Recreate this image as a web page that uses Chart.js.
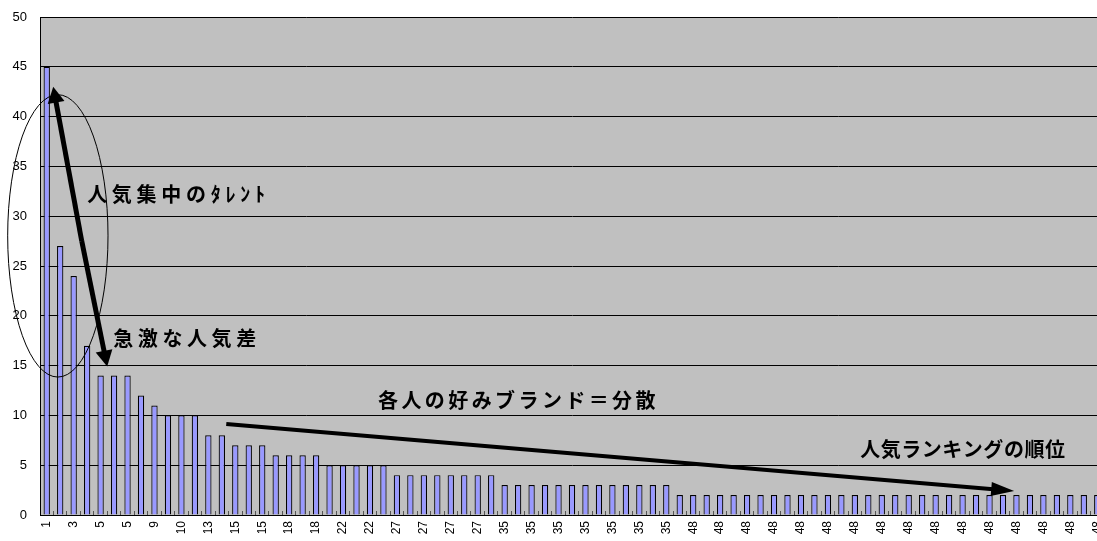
<!DOCTYPE html>
<html><head><meta charset="utf-8">
<script src="https://cdn.jsdelivr.net/npm/chart.js@4/dist/chart.umd.min.js"></script>
<style>
html,body{margin:0;padding:0;background:#fff;overflow:hidden;width:1097px;height:541px}
#wrap{width:1104px;height:541px}
</style>
</head><body><div id="wrap"><canvas id="c" width="1104" height="541"></canvas></div>
<script>
// Category labels (popularity rank, ties share a rank)
const rankLabels = ['1','2','3','4','5','5','5','8','9','10','10','10','13','13','15','15','15',
  '18','18','18','18','22','22','22','22','22',
  '27','27','27','27','27','27','27','27',
  '35','35','35','35','35','35','35','35','35','35','35','35','35',
  '48','48','48','48','48','48','48','48','48','48','48','48','48','48','48','48',
  '48','48','48','48','48','48','48','48','48','48','48','48','48','48','48','48'];
// Bar values
const counts = [45,27,24,17,14,14,14,12,11,10,10,10,8,8,7,7,7,
  6,6,6,6,5,5,5,5,5,
  4,4,4,4,4,4,4,4,
  3,3,3,3,3,3,3,3,3,3,3,3,3,
  2,2,2,2,2,2,2,2,2,2,2,2,2,2,2,2,
  2,2,2,2,2,2,2,2,2,2,2,2,2,2,2,2];
// Y axis range
const yMin = 0, yMax = 50, yStep = 5;

// Annotations in data units (x = category index, y = value)
const notes = [
  {text:'人気集中のﾀﾚﾝﾄ', x0:3.0, x1:16.2, y:32.2},
  {text:'急激な人気差', x0:4.94, x1:15.55, y:17.7},
  {text:'各人の好みブランド＝分散', x0:24.6, x1:45.2, y:11.5},
  {text:'人気ランキングの順位', x0:60.4, x1:75.6, y:6.6}
];
const ellipse = {left:-2.9, right:4.55, top:42.2, bottom:13.85};
const arrows = [
  {from:[2.6,27.5], to:[0.48,43.0], lw:5, hl:16, hw:17},
  {from:[2.6,27.5], to:[4.49,14.9], lw:5, hl:16, hw:17},
  {from:[13.33,9.14], to:[71.83,2.41], lw:4, hl:23, hw:14}
];

const bgPlugin = {
  id:'bg',
  beforeDraw(chart){
    const {ctx, chartArea:a} = chart;
    ctx.save();
    ctx.fillStyle = '#C0C0C0';
    ctx.fillRect(a.left, a.top, a.right - a.left, a.bottom - a.top);
    ctx.restore();
  }
};

function drawArrow(ctx, x1, y1, x2, y2, lw, hl, hw){
  const dx = x2 - x1, dy = y2 - y1, len = Math.hypot(dx, dy);
  const ux = dx/len, uy = dy/len;
  const bx = x2 - ux*hl, by = y2 - uy*hl;
  ctx.beginPath();
  ctx.lineWidth = lw;
  ctx.strokeStyle = '#000';
  ctx.lineCap = 'butt';
  ctx.moveTo(x1, y1);
  ctx.lineTo(bx + ux*2, by + uy*2);
  ctx.stroke();
  ctx.beginPath();
  ctx.fillStyle = '#000';
  ctx.moveTo(x2, y2);
  ctx.lineTo(bx - uy*hw/2, by + ux*hw/2);
  ctx.lineTo(bx + uy*hw/2, by - ux*hw/2);
  ctx.closePath();
  ctx.fill();
}

const notePlugin = {
  id:'notes',
  afterDraw(chart){
    const ctx = chart.ctx, xs = chart.scales.x, ys = chart.scales.y;
    const X = v => xs.getPixelForValue(v), Y = v => ys.getPixelForValue(v);
    ctx.save();
    const l = X(ellipse.left), r = X(ellipse.right), t = Y(ellipse.top), b = Y(ellipse.bottom);
    ctx.beginPath();
    ctx.lineWidth = 1;
    ctx.strokeStyle = '#000';
    ctx.ellipse((l+r)/2, (t+b)/2, (r-l)/2, (b-t)/2, 0, 0, Math.PI*2);
    ctx.stroke();
    arrows.forEach(a => drawArrow(ctx, X(a.from[0]), Y(a.from[1]), X(a.to[0]), Y(a.to[1]), a.lw, a.hl, a.hw));
    ctx.fillStyle = '#000';
    ctx.font = 'bold 20px "Noto Sans CJK JP"';
    ctx.textBaseline = 'middle';
    ctx.textAlign = 'left';
    notes.forEach(n => {
      const x0 = X(n.x0), x1 = X(n.x1);
      ctx.letterSpacing = '0px';
      const w = ctx.measureText(n.text).width;
      const chars = Array.from(n.text).length;
      const sp = Math.max(0, (x1 - x0 - w) / (chars - 1));
      ctx.letterSpacing = sp + 'px';
      ctx.fillText(n.text, x0, Y(n.y));
    });
    ctx.restore();
  }
};

new Chart(document.getElementById('c'), {
  type:'bar',
  data:{
    labels: rankLabels,
    datasets:[{
      data: counts,
      backgroundColor:'#9999FF',
      borderColor:'#000',
      borderWidth:1.2,
      barPercentage:0.47,
      categoryPercentage:1
    }]
  },
  options:{
    responsive:false,
    animation:false,
    devicePixelRatio:1,
    layout:{padding:{top:17,right:0,bottom:0,left:0}},
    plugins:{legend:{display:false}, tooltip:{enabled:false}},
    scales:{
      x:{
        grid:{drawOnChartArea:false, drawTicks:true, tickLength:-4, tickColor:'#555', offset:true},
        border:{display:true, color:'#000', width:1},
        ticks:{
          autoSkip:false, maxRotation:90, minRotation:90, padding:10, color:'#000',
          font:{family:'"Liberation Sans", Arial, sans-serif', size:12},
          callback:(v, i) => (i % 2 === 0 ? rankLabels[i] : '')
        },
        afterFit:s => { s.height = 26; s.paddingLeft = 0; s.paddingRight = 0; }
      },
      y:{
        min:yMin, max:yMax,
        ticks:{stepSize:yStep, padding:13, color:'#000', font:{family:'"Liberation Sans", Arial, sans-serif', size:13}},
        grid:{color:'#000', lineWidth:1, drawTicks:false},
        border:{display:true, color:'#000', width:1},
        afterFit:s => { s.width = 40; s.paddingTop = 0; s.paddingBottom = 0; }
      }
    }
  },
  plugins:[bgPlugin, notePlugin]
});
</script>
</body></html>
